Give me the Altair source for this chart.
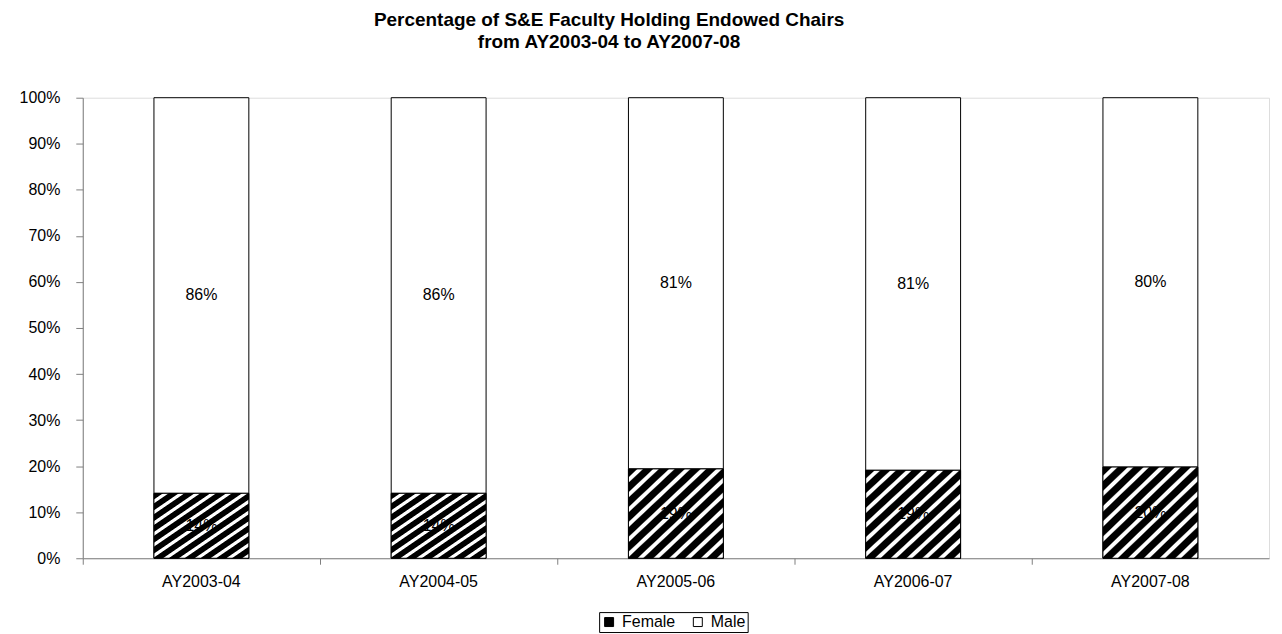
import altair as alt
import pandas as pd

years = ["AY2003-04", "AY2004-05", "AY2005-06", "AY2006-07", "AY2007-08"]
female = [14.1, 14.1, 19.4, 19.1, 19.8]
male = [85.9, 85.9, 80.6, 80.9, 80.2]
genders = ["Female", "Male"]

rows = []
for y, f, m in zip(years, female, male):
    rows.append({"year": y, "gender": "Female", "value": f, "start": 0, "end": f,
                 "mid": f / 2, "label": f"{round(f)}%"})
    rows.append({"year": y, "gender": "Male", "value": m, "start": f, "end": f + m,
                 "mid": f + m / 2, "label": f"{round(m)}%"})
df = pd.DataFrame(rows)

# diagonal hatch approximated with a hard-stop linear gradient
stops = []
n = 12
for i in range(n):
    a = i / n
    w = 1 / n
    stops += [
        {"offset": a, "color": "#000000"},
        {"offset": a + 0.52 * w, "color": "#000000"},
        {"offset": a + 0.62 * w, "color": "#ffffff"},
        {"offset": a + 0.88 * w, "color": "#ffffff"},
        {"offset": a + 0.98 * w, "color": "#000000"},
    ]
stops.append({"offset": 1, "color": "#000000"})
hatch = alt.Gradient(gradient="linear", x1=0, y1=0, x2=1, y2=1, stops=stops)

FONT = "Liberation Sans"

x_main = alt.X("year:N", sort=years, title=None,
               scale=alt.Scale(paddingInner=0.6, paddingOuter=0.3),
               axis=alt.Axis(labelAngle=0, labelFontSize=16, labelFont=FONT, labelColor="black",
                             ticks=False, domainColor="#808080", labelPadding=15))
y_main = alt.Y("start:Q", title=None,
               scale=alt.Scale(domain=[0, 100]),
               axis=alt.Axis(values=list(range(0, 101, 10)), labelExpr="datum.value + '%'",
                             labelFontSize=16, labelFont=FONT, labelColor="black",
                             grid=False, tickSize=7, tickColor="#808080", domainColor="#808080",
                             labelPadding=16))

base = alt.Chart(df)

bars = base.mark_bar(stroke="black", strokeWidth=1).encode(
    x=x_main,
    y=y_main,
    y2="end:Q",
    fill=alt.Fill("gender:N", scale=alt.Scale(domain=genders, range=["#000000", "#ffffff"]),
                  legend=alt.Legend(title=None, orient="none", direction="horizontal",
                                    legendX=518, legendY=516,
                                    labelFontSize=16, labelFont=FONT, labelColor="black",
                                    symbolType="square", symbolSize=81, symbolStrokeColor="black",
                                    symbolStrokeWidth=1, strokeColor="black", padding=2,
                                    columnPadding=14, labelOffset=5)),
)

hatched = base.transform_filter(alt.datum.gender == "Female").mark_bar(
    fill=hatch, stroke="black", strokeWidth=1
).encode(x=alt.X("year:N", sort=years), y=alt.Y("start:Q"), y2="end:Q")

labels = base.mark_text(fontSize=16, font=FONT, color="black").encode(
    x=alt.X("year:N", sort=years), y=alt.Y("mid:Q"), text="label:N"
)

inner = alt.layer(bars, hatched, labels)

ticks = alt.Chart(pd.DataFrame({"year": years})).mark_tick(opacity=0).encode(
    x=alt.X("year:N", sort=years, title=None,
            scale=alt.Scale(paddingInner=0, paddingOuter=0),
            axis=alt.Axis(orient="bottom", labels=False, bandPosition=0, tickSize=6,
                          tickColor="#808080", domain=False)),
)

chart = alt.layer(inner, ticks).resolve_scale(x="independent").properties(
    width=1190,
    height=462,
    padding={"left": 11, "top": 2, "right": 5, "bottom": 0},
    title=alt.TitleParams(
        text=["Percentage of S&E Faculty Holding Endowed Chairs", "from AY2003-04 to AY2007-08"],
        fontSize=19, font=FONT, fontWeight="bold", color="black", anchor="middle",
        dx=-67, offset=38, lineHeight=22,
    ),
).configure_view(stroke="#a0a0a0", strokeWidth=1).configure(background="white")

chart.save("out.html", embed_options={"renderer": "svg", "actions": False})
